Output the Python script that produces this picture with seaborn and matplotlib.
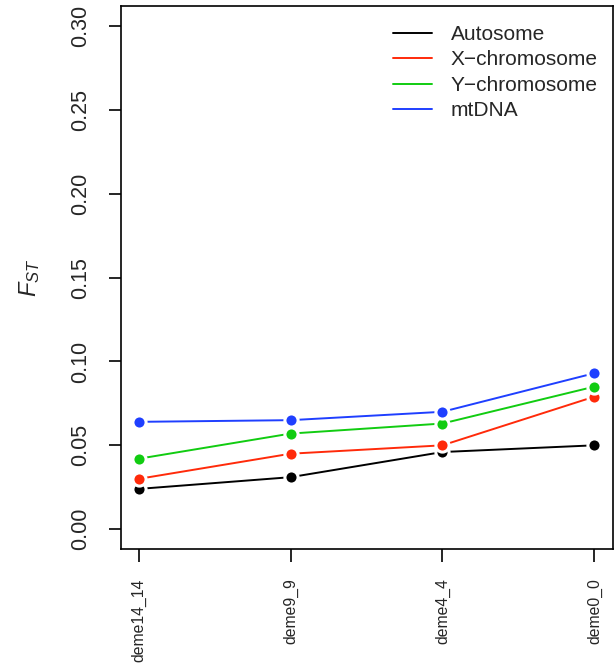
import numpy as np
import pandas as pd
import matplotlib
matplotlib.use("Agg")
import matplotlib.pyplot as plt
import seaborn as sns
from matplotlib.lines import Line2D

demes = ["deme14_14", "deme9_9", "deme4_4", "deme0_0"]
series = ["Autosome", "X\u2212chromosome", "Y\u2212chromosome", "mtDNA"]
autosome = [0.024, 0.031, 0.046, 0.050]
x_chrom = [0.030, 0.045, 0.050, 0.079]
y_chrom = [0.042, 0.057, 0.063, 0.085]
mtdna = [0.064, 0.065, 0.070, 0.093]
colors = ["black", "#ff2a0a", "#11cc11", "#1f3fff"]

rows = []
for name, vals in zip(series, [autosome, x_chrom, y_chrom, mtdna]):
    for i, (d, v) in enumerate(zip(demes, vals)):
        rows.append({"pos": i, "deme": d, "series": name, "fst": v})
df = pd.DataFrame(rows)

sns.set_style("ticks")
plt.rcParams["font.family"] = ["Liberation Sans", "DejaVu Sans"]
plt.rcParams["mathtext.fontset"] = "custom"
plt.rcParams["mathtext.rm"] = "Liberation Sans"
plt.rcParams["mathtext.it"] = "Liberation Sans:italic"

fig = plt.figure(figsize=(6.15, 6.67), dpi=100)
ax = fig.add_axes([0.196, 0.1765, 0.8, 0.8145])

# type="b"-like look: white rim around each point
sns.lineplot(
    data=df, x="pos", y="fst", hue="series", hue_order=series,
    palette=colors, marker="o", markersize=9.5, markeredgecolor="white",
    markeredgewidth=2.2, linewidth=1.4, legend=False, sort=False, ax=ax,
)

ax.set_xlim(-0.12, 3.12)
ax.set_ylim(-0.012, 0.312)
ax.set_xticks(range(len(demes)))
ax.set_xticklabels(demes, rotation=90, fontsize=11.3)
yt = np.arange(0, 0.31, 0.05)
ax.set_yticks(yt)
ax.set_yticklabels([f"{v:.2f}" for v in yt], rotation=90, va="center", fontsize=15.5)
ax.tick_params(axis="both", length=9, width=1.2, pad=12, color="black")
for s in ax.spines.values():
    s.set_visible(True)
    s.set_linewidth(1.2)
    s.set_color("black")

ax.set_xlabel("")
ax.set_ylabel("$F_{ST}$", fontsize=17)
ax.yaxis.set_label_coords(-0.16, 0.5)

handles = [Line2D([], [], color=c, lw=1.4) for c in colors]
ax.legend(handles, series, loc="upper left", bbox_to_anchor=(0.553, 0.965),
          frameon=False, fontsize=15, handlelength=1.9, handletextpad=0.9,
          labelspacing=0.31, borderpad=0, borderaxespad=0)

fig.savefig("out.png", dpi=100)
